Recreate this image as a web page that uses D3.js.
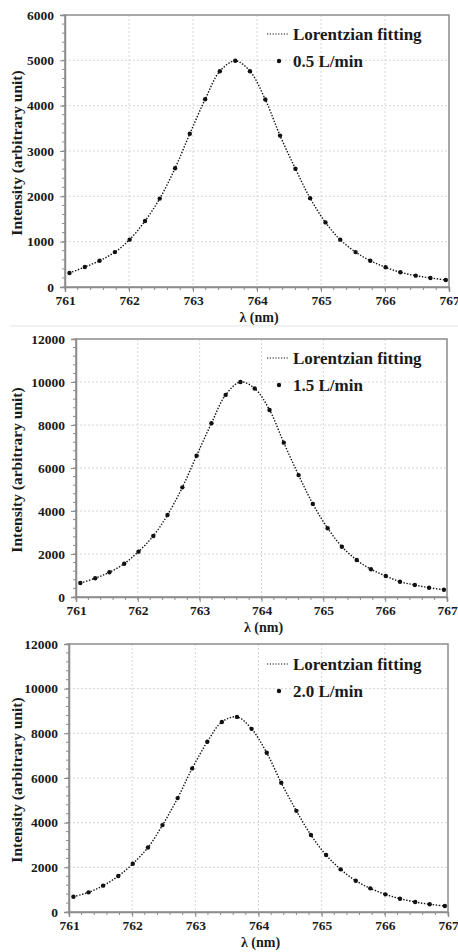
<!DOCTYPE html>
<html>
<body>
    <style>
        body, html {
            margin: 0;
            padding: 0;
            background: #fff;
        }
        svg { display: block; }
    </style>

    <svg width="458" height="952"></svg>

    <script src="https://cdn.jsdelivr.net/npm/d3@7"></script>

    <script>
        // wavelengths of the measured points (nm)
        var wavelengths = [761.07, 761.31, 761.54, 761.78, 762.01, 762.25, 762.48, 762.72, 762.95, 763.19,
                           763.42, 763.66, 763.89, 764.13, 764.36, 764.60, 764.83, 765.07, 765.30, 765.54,
                           765.77, 766.01, 766.24, 766.48, 766.71, 766.95];

        // intensities
        var flow05 = [310, 440, 580, 770, 1045, 1455, 1950, 2620, 3380, 4140,
                      4760, 4990, 4760, 4135, 3340, 2610, 1960, 1425, 1045, 770,
                      580, 435, 325, 250, 200, 155];
        var flow15 = [650, 870, 1150, 1550, 2110, 2840, 3815, 5100, 6570, 8080,
                      9400, 10000, 9700, 8700, 7180, 5670, 4330, 3200, 2340, 1720,
                      1290, 980, 710, 560, 430, 340];
        var flow20 = [685, 880, 1180, 1610, 2160, 2890, 3890, 5100, 6430, 7620,
                      8510, 8735, 8200, 7130, 5785, 4530, 3445, 2550, 1910, 1400,
                      1060, 790, 595, 450, 345, 270];

        var flowLabels = ["0.5 L/min", "1.5 L/min", "2.0 L/min"];
        var yMaxes = [6000, 12000, 12000];
        var yMajor = [1000, 2000, 2000];
        var xTicks = [761, 762, 763, 764, 765, 766, 767];
        var fitLabel = "Lorentzian fitting";
        var xTitle = "λ (nm)";
        var yTitle = "Intensity (arbitrary unit)";

        var serif = '"Liberation Serif", "Times New Roman", serif';

        // pixel boxes of the three plot areas
        var boxes = [
            {left: 65, right: 449, top: 15,  bottom: 287, legendY: 34},
            {left: 76, right: 447, top: 339, bottom: 597, legendY: 358},
            {left: 69, right: 448, top: 644, bottom: 912, legendY: 664}
        ];
        var series = [flow05, flow15, flow20];

        var svg = d3.select("svg");

        // thin separator under the first panel
        svg.append("line")
            .attr("x1", 10).attr("x2", 458)
            .attr("y1", 326).attr("y2", 326)
            .attr("stroke", "#e3e3e3").attr("stroke-width", 1);

        function label(sel, size) {
            return sel.style("font-family", serif)
                .style("font-weight", "bold")
                .style("font-size", size + "px")
                .style("fill", "#1a1a1a");
        }

        function drawPanel(i) {
            var b = boxes[i];
            var values = series[i];
            var g = svg.append("g");

            var x = d3.scaleLinear().domain([761, 767]).range([b.left, b.right]);
            var y = d3.scaleLinear().domain([0, yMaxes[i]]).range([b.bottom, b.top]);
            var yTicks = d3.range(0, yMaxes[i] + 1, yMajor[i]);
            var yMinor = d3.range(0, yMaxes[i] + 1, yMajor[i] / 5);
            var xMinor = d3.range(761, 767.001, 0.2);

            // GRID
            g.append("g").selectAll("line").data(xTicks.slice(1, -1)).join("line")
                .attr("x1", x).attr("x2", x)
                .attr("y1", b.top).attr("y2", b.bottom)
                .attr("stroke", "#d6d6d6").attr("stroke-dasharray", "2,2");
            g.append("g").selectAll("line").data(yTicks.slice(1, -1)).join("line")
                .attr("x1", b.left).attr("x2", b.right)
                .attr("y1", y).attr("y2", y)
                .attr("stroke", "#d6d6d6").attr("stroke-dasharray", "2,2");

            // FRAME
            g.append("rect")
                .attr("x", b.left).attr("y", b.top)
                .attr("width", b.right - b.left).attr("height", b.bottom - b.top)
                .attr("fill", "none").attr("stroke", "#8c8c8c").attr("stroke-width", 1.5);

            // MINOR TICKS
            g.append("g").selectAll("line").data(yMinor).join("line")
                .attr("x1", b.left - 3).attr("x2", b.left)
                .attr("y1", y).attr("y2", y)
                .attr("stroke", "#8c8c8c");
            g.append("g").selectAll("line").data(xMinor).join("line")
                .attr("x1", x).attr("x2", x)
                .attr("y1", b.bottom).attr("y2", b.bottom + 3)
                .attr("stroke", "#8c8c8c");

            // AXES
            var xAxis = g.append("g")
                .attr("transform", "translate(0," + b.bottom + ")")
                .call(d3.axisBottom(x).tickValues(xTicks).tickFormat(d3.format("d")).tickSize(5).tickPadding(3));
            var yAxis = g.append("g")
                .attr("transform", "translate(" + b.left + ",0)")
                .call(d3.axisLeft(y).tickValues(yTicks).tickFormat(d3.format("d")).tickSize(5).tickPadding(6));
            [xAxis, yAxis].forEach(function (a) {
                a.attr("font-family", serif).attr("font-size", 13.5);
                a.select(".domain").attr("stroke", "#8c8c8c").attr("stroke-width", 1.5);
                a.selectAll(".tick line").attr("stroke", "#8c8c8c");
                label(a.selectAll(".tick text"), 13.5);
            });

            // FIT CURVE
            var line = d3.line()
                .x(function (d, j) { return x(wavelengths[j]); })
                .y(function (d) { return y(d); })
                .curve(d3.curveCatmullRom.alpha(0.5));
            g.append("path")
                .attr("d", line(values))
                .attr("fill", "none")
                .attr("stroke", "#111")
                .attr("stroke-width", 1.4)
                .attr("stroke-dasharray", "1.4,1.6");

            // POINTS
            g.append("g").selectAll("circle").data(values).join("circle")
                .attr("cx", function (d, j) { return x(wavelengths[j]); })
                .attr("cy", y)
                .attr("r", 2.2)
                .attr("fill", "#111");

            // LEGEND
            var ly = b.legendY;
            g.append("line")
                .attr("x1", 267).attr("x2", 289)
                .attr("y1", ly).attr("y2", ly)
                .attr("stroke", "#111").attr("stroke-width", 1.2)
                .attr("stroke-dasharray", "1.2,1.6");
            label(g.append("text"), 17)
                .attr("x", 293).attr("y", ly + 5.5)
                .text(fitLabel);
            g.append("circle")
                .attr("cx", 279).attr("cy", ly + 27)
                .attr("r", 2.2).attr("fill", "#111");
            label(g.append("text"), 17)
                .attr("x", 293).attr("y", ly + 32.5)
                .text(flowLabels[i]);

            // AXIS TITLES
            label(g.append("text"), 14)
                .attr("x", (b.left + b.right) / 2 + 2)
                .attr("y", b.bottom + 35)
                .attr("text-anchor", "middle")
                .text(xTitle);
            label(g.append("text"), 15.5)
                .attr("transform", "translate(22," + ((b.top + b.bottom) / 2 + 2) + ") rotate(-90)")
                .attr("text-anchor", "middle")
                .text(yTitle);
        }

        for (var i = 0; i < 3; i++) drawPanel(i);
    </script>
</body>
</html>
